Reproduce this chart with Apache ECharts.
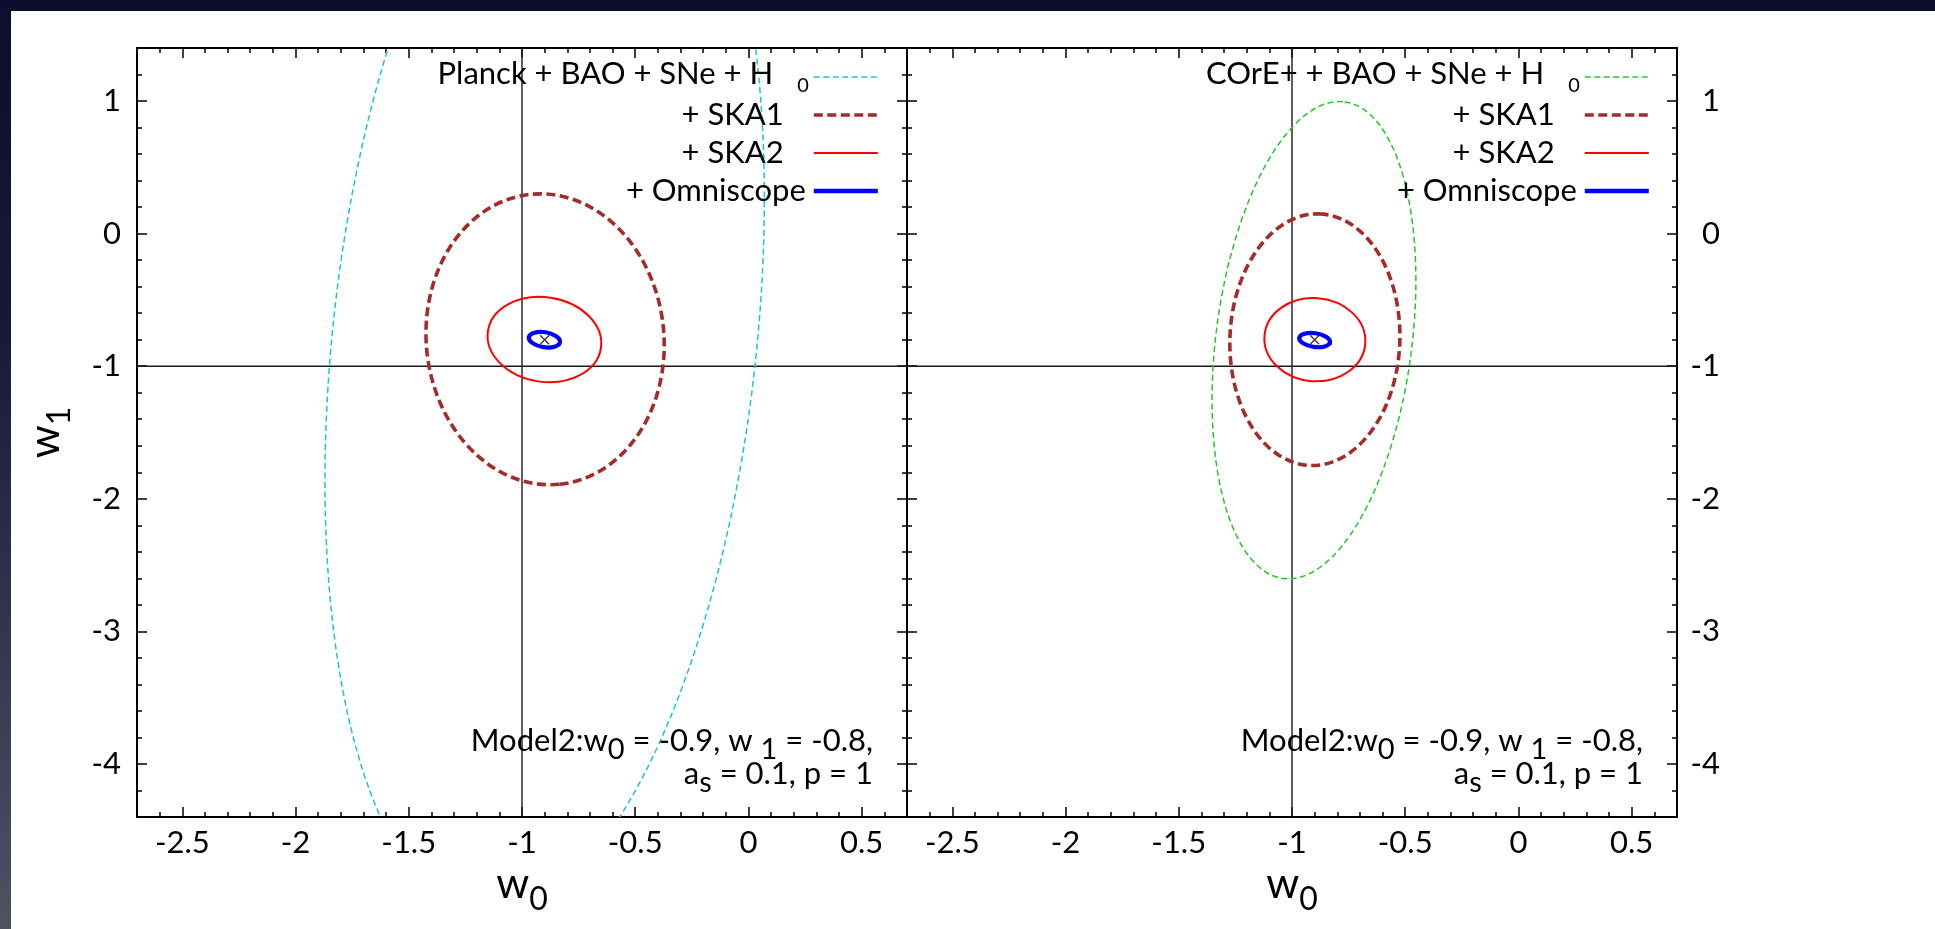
<!DOCTYPE html>
<html>
<head>
<meta charset="utf-8">
<title>w0 - w1 forecast contours</title>
<script src="https://cdn.jsdelivr.net/npm/echarts@6.0.0/dist/echarts.min.js"></script>
<style>
html, body { margin:0; padding:0; width:1935px; height:929px; overflow:hidden; }
body { position:relative; background: linear-gradient(to bottom, #0c0e2d 0%, #17193a 35%, #4e5262 100%); }
#paper { position:absolute; left:11px; top:11px; right:0; bottom:0; background:#ffffff; }
#chart { position:absolute; left:0; top:0; width:1935px; height:929px; }
</style>
</head>
<body>
<div id="paper"></div>
<div id="chart"></div>
<script>
// ---------------- data ----------------
const X_MIN = -2.7, X_MAX = 0.7;
const Y_MIN = -4.4, Y_MAX = 1.4;

const xMajorTicks = [-2.5, -2, -1.5, -1, -0.5, 0, 0.5];
const xTickLabels = ['-2.5', '-2', '-1.5', '-1', '-0.5', '0', '0.5'];
const xMinorTicks = [-2.6, -2.4, -2.3, -2.2, -2.1, -1.9, -1.8, -1.7, -1.6, -1.4, -1.3, -1.2, -1.1,
                     -0.9, -0.8, -0.7, -0.6, -0.4, -0.3, -0.2, -0.1, 0.1, 0.2, 0.3, 0.4, 0.6];
const yMajorTicks = [-4, -3, -2, -1, 0, 1];
const yTickLabels = ['-4', '-3', '-2', '-1', '0', '1'];
const yMinorTicks = [-4.2, -3.8, -3.6, -3.4, -3.2, -2.8, -2.6, -2.4, -2.2, -1.8, -1.6, -1.4, -1.2,
                     -0.8, -0.6, -0.4, -0.2, 0.2, 0.4, 0.6, 0.8, 1.2];

// contour ellipses: [w0 centre, w1 centre, half-extent in w0, half-extent in w1, correlation]
const planckEllipse    = [-0.90, -0.80, 0.97, 4.35, 0.245];
const ska1LeftEllipse  = [-0.898, -0.797, 0.526, 1.097, -0.04];
const ska2LeftEllipse  = [-0.901, -0.799, 0.251, 0.322, -0.09];
const omniLeftEllipse  = [-0.901, -0.800, 0.069, 0.059, -0.25];

const coreEllipse      = [-0.903, -0.804, 0.450, 1.800, 0.25];
const ska1RightEllipse = [-0.899, -0.800, 0.3755, 0.949, 0.03];
const ska2RightEllipse = [-0.899, -0.800, 0.223, 0.314, -0.03];
const omniRightEllipse = [-0.900, -0.803, 0.068, 0.054, -0.25];

const fiducialPoint = [[-0.9, -0.8]];
const refW0 = -1;   // vertical reference line w0 = -1
const refW1 = -1;   // horizontal reference line w1 = -1

const leftLegendNames  = ['Planck + BAO + SNe + H0', '+ SKA1', '+ SKA2', '+ Omniscope'];
const rightLegendNames = ['COrE+ + BAO + SNe + H0', '+ SKA1', '+ SKA2', '+ Omniscope'];
const annotationLine1 = 'Model2:w{s|0} = -0.9, w {s|1} = -0.8,';
const annotationLine2 = 'a{s|s} = 0.1, p = 1';

// ---------------- styles ----------------
const FONT = 'Lato, "Open Sans", "DejaVu Sans", sans-serif';
const C_CYAN = '#19c6d3', C_GREEN = '#26c726', C_DARKRED = '#a52a2a', C_RED = '#ff0000', C_BLUE = '#0000ff';
const styleWide   = (c) => ({ stroke: c, lineWidth: 1.5, lineDash: [6, 3.5], fill: 'none' });
const styleSka1   = { stroke: C_DARKRED, lineWidth: 3.6, lineDash: [9, 4.5], fill: 'none' };
const styleSka2   = { stroke: C_RED, lineWidth: 2, fill: 'none' };
const styleOmni   = { stroke: C_BLUE, lineWidth: 4.2, fill: 'none' };

// ---------------- axes ----------------
const nameStyle = { color: '#000', fontFamily: FONT, fontSize: 42, lineHeight: 44,
  rich: { s: { fontFamily: FONT, fontSize: 32, color: '#000', verticalAlign: 'bottom', height: 14, lineHeight: 14 } } };

function xAx(gridIndex, position, ticks, len, showLine, withLabels, withName) {
  const ax = {
    type: 'value', gridIndex, position, min: X_MIN, max: X_MAX,
    axisLine: { show: showLine, onZero: false, lineStyle: { color: '#000', width: 2 } },
    axisTick: { show: true, inside: true, length: len, customValues: ticks, lineStyle: { color: '#000', width: 1.5 } },
    axisLabel: withLabels ? {
      show: true, customValues: xMajorTicks, margin: 10, color: '#000', fontFamily: FONT, fontSize: 31,
      formatter: (v) => { const i = xMajorTicks.findIndex(t => Math.abs(t - v) < 1e-9); return i >= 0 ? xTickLabels[i] : ''; }
    } : { show: false },
    splitLine: { show: false }
  };
  if (withName) {
    ax.name = 'w{s|0}';
    ax.nameLocation = 'middle';
    ax.nameGap = 38;
    ax.nameTextStyle = nameStyle;
  }
  return ax;
}
function yAx(gridIndex, position, ticks, len, showLine, labelOpt, withName) {
  const ax = {
    type: 'value', gridIndex, position, min: Y_MIN, max: Y_MAX,
    axisLine: { show: showLine, onZero: false, lineStyle: { color: '#000', width: 2 } },
    axisTick: { show: true, inside: true, length: len, customValues: ticks, lineStyle: { color: '#000', width: 1.5 } },
    axisLabel: labelOpt ? Object.assign({
      show: true, customValues: yMajorTicks, color: '#000', fontFamily: FONT, fontSize: 31,
      formatter: (v) => { const i = yMajorTicks.findIndex(t => Math.abs(t - v) < 1e-9); return i >= 0 ? yTickLabels[i] : ''; }
    }, labelOpt) : { show: false },
    splitLine: { show: false }
  };
  if (withName) {
    ax.name = 'w{s|1}';
    ax.nameLocation = 'middle';
    ax.nameRotate = 90;
    ax.nameGap = 70;
    ax.nameTextStyle = nameStyle;
  }
  return ax;
}

const xAxes = [], yAxes = [];
[0, 1].forEach(g => {
  xAxes.push(xAx(g, 'bottom', xMajorTicks, 10, true, true, true));
  xAxes.push(xAx(g, 'bottom', xMinorTicks, 5, false, false, false));
  xAxes.push(xAx(g, 'top', xMajorTicks, 10, true, false, false));
  xAxes.push(xAx(g, 'top', xMinorTicks, 5, false, false, false));
  yAxes.push(yAx(g, 'left', yMajorTicks, 10, true, g === 0 ? { align: 'right', margin: 16 } : null, g === 0));
  yAxes.push(yAx(g, 'left', yMinorTicks, 5, false, null, false));
  yAxes.push(yAx(g, 'right', yMajorTicks, 10, true, g === 1 ? { align: 'right', margin: 43 } : null, false));
  yAxes.push(yAx(g, 'right', yMinorTicks, 5, false, null, false));
});

// ---------------- series ----------------
function renderEllipse(style) {
  return function (params, api) {
    const cx = api.value(0), cy = api.value(1), sx = api.value(2), sy = api.value(3), rho = api.value(4);
    const c = api.coord([cx, cy]);
    const k = api.size([1, 1], [cx, cy]);
    const Sx = sx * k[0], Sy = sy * k[1];
    const a = Sx * Sx, d = Sy * Sy, b = -rho * Sx * Sy;   // pixel y grows downward
    const th = 0.5 * Math.atan2(2 * b, a - d);
    const m = (a + d) / 2, q = Math.sqrt(((a - d) / 2) ** 2 + b * b);
    const r1 = Math.sqrt(m + q), r2 = Math.sqrt(Math.max(m - q, 1e-6));
    const ux = Math.cos(th), uy = Math.sin(th);
    const x1 = c[0] + r1 * ux, y1 = c[1] + r1 * uy, x2 = c[0] - r1 * ux, y2 = c[1] - r1 * uy;
    const deg = th * 180 / Math.PI;
    const path = 'M' + x1 + ',' + y1 + 'A' + r1 + ',' + r2 + ',' + deg + ',0,1,' + x2 + ',' + y2 +
                 'A' + r1 + ',' + r2 + ',' + deg + ',0,1,' + x1 + ',' + y1 + 'Z';
    return { type: 'path', shape: { pathData: path }, style: Object.assign({}, style), silent: true };
  };
}
function ellipseSeries(id, params, g, style) {
  return { type: 'custom', id, xAxisIndex: g * 4, yAxisIndex: g * 4, clip: true, silent: true, z: 3,
    data: [params], renderItem: renderEllipse(style) };
}
function refLines(g) {
  return [
    { type: 'line', id: 'refv' + g, xAxisIndex: g * 4, yAxisIndex: g * 4, symbol: 'none', silent: true, z: 2,
      data: [[refW0, Y_MIN], [refW0, Y_MAX]], lineStyle: { color: '#1a1a1a', width: 1.4 } },
    { type: 'line', id: 'refh' + g, xAxisIndex: g * 4, yAxisIndex: g * 4, symbol: 'none', silent: true, z: 2,
      data: [[X_MIN, refW1], [X_MAX, refW1]], lineStyle: { color: '#1a1a1a', width: 1.4 } }
  ];
}
function marker(g) {
  return { type: 'scatter', id: 'fid' + g, xAxisIndex: g * 4, yAxisIndex: g * 4, z: 6, silent: true,
    data: fiducialPoint, symbol: 'path://M0,0L10,10M10,0L0,10', symbolSize: 9,
    itemStyle: { color: 'none', borderColor: '#000', borderWidth: 1.3 } };
}
function legendProxy(name, color, width, dash) {
  return { type: 'line', name, xAxisIndex: 0, yAxisIndex: 0, data: [], symbol: 'none', showSymbol: false,
    lineStyle: { color, width, type: dash || 'solid' }, itemStyle: { color } };
}

const series = [
  ...refLines(0), ...refLines(1),
  ellipseSeries('planck', planckEllipse, 0, styleWide(C_CYAN)),
  ellipseSeries('ska1L', ska1LeftEllipse, 0, styleSka1),
  ellipseSeries('ska2L', ska2LeftEllipse, 0, styleSka2),
  ellipseSeries('omniL', omniLeftEllipse, 0, styleOmni),
  ellipseSeries('core', coreEllipse, 1, styleWide(C_GREEN)),
  ellipseSeries('ska1R', ska1RightEllipse, 1, styleSka1),
  ellipseSeries('ska2R', ska2RightEllipse, 1, styleSka2),
  ellipseSeries('omniR', omniRightEllipse, 1, styleOmni),
  marker(0), marker(1),
  legendProxy(leftLegendNames[0], C_CYAN, 1.5, [6, 3.5]),
  legendProxy(rightLegendNames[0], C_GREEN, 1.5, [6, 3.5]),
  legendProxy('+ SKA1', C_DARKRED, 3.6, [9, 4.5]),
  legendProxy('+ SKA2', C_RED, 2),
  legendProxy('+ Omniscope', C_BLUE, 4.4)
];

function legendFormatter(name) {
  if (/H0$/.test(name)) return '{m|' + name.slice(0, -1) + '}{s|0}';
  if (name === '+ Omniscope') return '{o|' + name + '}';
  return '{k|' + name + '}';
}
function legendCfg(names, right) {
  return {
    data: names, orient: 'vertical', align: 'right', right, top: 58, padding: 0,
    itemWidth: 64, itemHeight: 14, itemGap: 0, selectedMode: false,
    itemStyle: { opacity: 0 },
    lineStyle: { width: 'inherit' },
    formatter: legendFormatter,
    textStyle: { color: '#000', fontFamily: FONT, fontSize: 31, lineHeight: 38,
      rich: {
        m: { fontFamily: FONT, fontSize: 31, color: '#000', lineHeight: 38, verticalAlign: 'top' },
        s: { fontFamily: FONT, fontSize: 20, color: '#000', verticalAlign: 'bottom', lineHeight: 10, padding: [0, 0, 0, 24] },
        k: { fontFamily: FONT, fontSize: 31, color: '#000', lineHeight: 38, padding: [0, 25, 0, 0] },
        o: { fontFamily: FONT, fontSize: 31, color: '#000', lineHeight: 38, padding: [0, 3, 0, 0] }
      } }
  };
}

function annotation(xRight) {
  return {
    type: 'text', x: xRight, y: 724, silent: true, z: 10,
    style: {
      text: annotationLine1 + '\n' + annotationLine2,
      align: 'right', verticalAlign: 'top', fill: '#000', fontFamily: FONT, fontSize: 31, lineHeight: 33,
      rich: { s: { fontFamily: FONT, fontSize: 29, fill: '#000', verticalAlign: 'bottom', height: 15, lineHeight: 15 } }
    }
  };
}

const option = {
  animation: false,
  backgroundColor: 'transparent',
  grid: [
    { left: 137, top: 48, width: 770, height: 769, containLabel: false },
    { left: 907, top: 48, width: 770, height: 769, containLabel: false }
  ],
  xAxis: xAxes,
  yAxis: yAxes,
  legend: [legendCfg(leftLegendNames, 1055), legendCfg(rightLegendNames, 284)],
  graphic: [annotation(873), annotation(1643)],
  series
};

const chart = echarts.init(document.getElementById('chart'), null, { renderer: 'canvas' });
chart.setOption(option);
</script>
</body>
</html>
